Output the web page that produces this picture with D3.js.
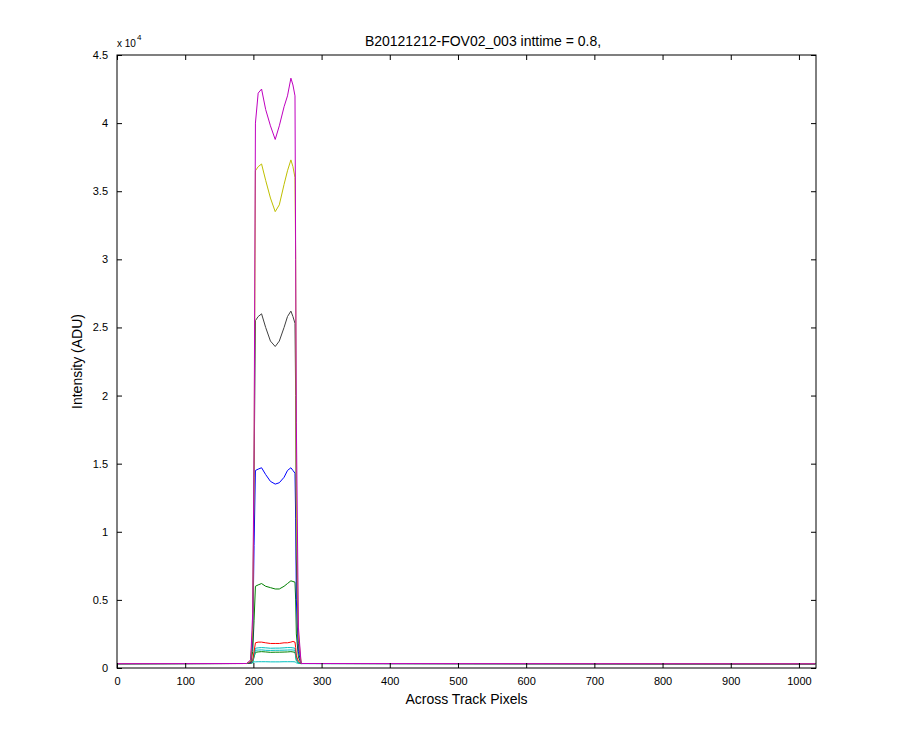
<!DOCTYPE html><html><head><meta charset="utf-8"><script src="https://d3js.org/d3.v7.min.js"></script>
<style>body{margin:0;background:#fff}text{font-family:"Liberation Sans",Arial,sans-serif}</style></head><body>
<svg id="c" width="900" height="750"></svg>
<script>
const pixelsX = [0,190,196,199,201,203,207,212,218,225,232,238,245,250,255,258,261,262,263,266,270,1024];
const magenta = [320,330,600,4000,16000,40000,42200,42500,41000,39800,38800,39800,41200,42000,43300,42800,42000,30000,18000,3000,330,310];
const yellow  = [320,330,500,3000,15000,36500,36800,37000,35800,34500,33500,34000,35500,36500,37300,36800,36000,30000,12000,2500,330,310];
const black   = [320,330,450,2500,14000,25500,25800,26000,25000,24000,23600,24000,25000,25800,26200,25800,25300,20000,8000,1800,330,310];
const blue    = [320,330,400,2000,9000,14500,14600,14700,14200,13700,13500,13600,14000,14500,14700,14500,14300,11000,5000,1200,330,310];
const green   = [320,330,380,1200,3500,6000,6100,6200,6000,5900,5800,5800,6000,6200,6400,6350,6300,5000,2500,800,330,310];
const red     = [320,330,350,600,1200,1850,1900,1900,1850,1800,1800,1800,1850,1850,1900,1950,1900,1500,900,500,330,310];
const cyan    = [320,330,340,500,1000,1450,1480,1500,1480,1450,1460,1460,1480,1500,1500,1480,1450,1200,700,400,330,310];
const teal    = [320,330,340,450,900,1300,1320,1330,1300,1290,1300,1300,1310,1320,1330,1320,1300,1000,600,380,330,310];
const green2  = [320,330,340,420,800,1150,1180,1200,1180,1150,1160,1160,1170,1180,1200,1180,1150,900,550,370,330,310];
const cyanLow = [320,330,340,380,450,450,460,460,460,450,450,450,460,460,460,460,450,420,380,340,320,310];
const seriesList = [
  {v:cyanLow,c:"#00bfbf"},{v:green2,c:"#008000"},{v:teal,c:"#00bfbf"},{v:cyan,c:"#00bfbf"},{v:red,c:"#ff0000"},
  {v:green,c:"#008000"},{v:blue,c:"#0000ff"},{v:black,c:"#404040"},{v:yellow,c:"#bfbf00"},{v:magenta,c:"#bf00bf"}];
const xTicks = d3.range(0,1001,100);
const yTicks = d3.range(0,45001,5000);

const svg = d3.select("#c");
const L=117,R=816,T=55,B=668;
const x = d3.scaleLinear().domain([0,1025]).range([L,R]);
const y = d3.scaleLinear().domain([0,45000]).range([B,T]);
svg.append("rect").attr("x",L).attr("y",T).attr("width",R-L).attr("height",B-T).attr("fill","#fff");
const line = d3.line().x((d,i)=>x(pixelsX[i])).y(d=>y(d));
seriesList.forEach(s=>svg.append("path").attr("d",line(s.v)).attr("fill","none").attr("stroke",s.c).attr("stroke-width",1));
svg.append("rect").attr("x",L).attr("y",T).attr("width",R-L).attr("height",B-T).attr("fill","none").attr("stroke","#000");
const fmtY = d=> String(d/10000);
const ax = svg.append("g").attr("transform",`translate(0,${B})`).call(d3.axisBottom(x).tickValues(xTicks).tickSize(-5).tickPadding(9).tickFormat(d=>String(d)));
const axT = svg.append("g").attr("transform",`translate(0,${T})`).call(d3.axisTop(x).tickValues(xTicks).tickSize(-5).tickFormat(""));
const ay = svg.append("g").attr("transform",`translate(${L},0)`).call(d3.axisLeft(y).tickValues(yTicks).tickSize(-5).tickPadding(9).tickFormat(fmtY));
const ayR = svg.append("g").attr("transform",`translate(${R},0)`).call(d3.axisRight(y).tickValues(yTicks).tickSize(-5).tickFormat(""));
[ax,axT,ay,ayR].forEach(g=>{g.select(".domain").remove();g.selectAll("text").attr("font-size",11).attr("font-family","Liberation Sans, Arial");});
svg.append("text").attr("x",117).attr("y",47).attr("font-size",10).text("x 10");
svg.append("text").attr("x",137).attr("y",40).attr("font-size",8).text("4");
svg.append("text").attr("x",483).attr("y",46).attr("text-anchor","middle").attr("font-size",14).text("B20121212-FOV02_003 inttime = 0.8,");
svg.append("text").attr("x",(L+R)/2).attr("y",704).attr("text-anchor","middle").attr("font-size",14).text("Across Track Pixels");
svg.append("text").attr("transform",`translate(82,${(T+B)/2}) rotate(-90)`).attr("text-anchor","middle").attr("font-size",14).text("Intensity (ADU)");
</script></body></html>
